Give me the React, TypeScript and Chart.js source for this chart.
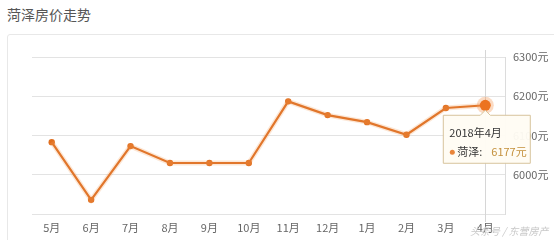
import React, { useEffect, useRef } from "react";
import { Chart, registerables } from "chart.js";

Chart.register(...registerables);

const categories = ["5月", "6月", "7月", "8月", "9月", "10月", "11月", "12月", "1月", "2月", "3月", "4月"];
const prices = [6083, 5936, 6073, 6030, 6030, 6030, 6187, 6152, 6134, 6102, 6170, 6177];
const yTicks = [5900, 6000, 6100, 6200, 6300];
const seriesName = "菏泽";
const activeLabel = "2018年4月";
const activeIndex = 11;
const FONT = "'Noto Sans CJK SC', 'Noto Sans', sans-serif";

const tooltipPlugin = {
  id: "customTip",
  afterDatasetsDraw(chart: any) {
    const ctx = chart.ctx;
    const meta = chart.getDatasetMeta(1);
    const pt = meta.data[activeIndex];
    if (!pt) return;
    const px = pt.x;
    const py = pt.y;
    ctx.save();
    ctx.beginPath();
    ctx.arc(px, py, 8.5, 0, Math.PI * 2);
    ctx.fillStyle = "rgba(243,150,80,0.35)";
    ctx.fill();
    ctx.beginPath();
    ctx.arc(px, py, 5.5, 0, Math.PI * 2);
    ctx.fillStyle = "#ec7320";
    ctx.fill();
    const bx = px - 42, by = py + 10, bw = 87, bh = 48;
    ctx.beginPath();
    ctx.moveTo(bx, by);
    ctx.lineTo(px - 5, by);
    ctx.lineTo(px, by - 5);
    ctx.lineTo(px + 5, by);
    ctx.lineTo(bx + bw, by);
    ctx.lineTo(bx + bw, by + bh);
    ctx.lineTo(bx, by + bh);
    ctx.closePath();
    ctx.fillStyle = "rgba(255,252,244,0.96)";
    ctx.fill();
    ctx.strokeStyle = "#d7c39c";
    ctx.lineWidth = 1;
    ctx.stroke();
    ctx.font = `11px ${FONT}`;
    ctx.textBaseline = "middle";
    ctx.textAlign = "left";
    ctx.fillStyle = "#333";
    ctx.fillText(activeLabel, bx + 6, by + 18);
    ctx.beginPath();
    ctx.arc(bx + 9, by + 37, 2.5, 0, Math.PI * 2);
    ctx.fillStyle = "#e9853a";
    ctx.fill();
    ctx.fillStyle = "#333";
    ctx.fillText(seriesName + ":", bx + 14, by + 37);
    ctx.fillStyle = "#c4913d";
    ctx.fillText(prices[activeIndex] + "元", bx + 48, by + 37);
    ctx.restore();
  },
  beforeDatasetsDraw(chart: any) {
    const ctx = chart.ctx;
    const meta = chart.getDatasetMeta(1);
    const pt = meta.data[activeIndex];
    if (!pt) return;
    ctx.save();
    ctx.strokeStyle = "#d6d6d6";
    ctx.lineWidth = 1;
    ctx.beginPath();
    ctx.moveTo(Math.round(pt.x) + 0.5, 50);
    ctx.lineTo(Math.round(pt.x) + 0.5, 222);
    ctx.stroke();
    ctx.restore();
  },
};

export default function App() {
  const ref = useRef<HTMLCanvasElement>(null);
  useEffect(() => {
    if (!ref.current) return;
    const chart = new Chart(ref.current, {
      type: "line",
      data: {
        labels: categories,
        datasets: [
          {
            label: "glow",
            data: prices,
            borderColor: "rgba(245,160,90,0.25)",
            borderWidth: 5,
            pointRadius: 0,
            tension: 0,
            fill: false,
          },
          {
            label: seriesName,
            data: prices,
            borderColor: "#db681b",
            borderWidth: 2.2,
            pointRadius: 3.2,
            pointBackgroundColor: "#e06e1e",
            pointBorderWidth: 0,
            tension: 0,
            fill: false,
          },
        ],
      },
      options: {
        animation: false,
        responsive: false,
        maintainAspectRatio: false,
        events: [],
        layout: { padding: { left: 32, top: 57, right: 0, bottom: 0 } },
        plugins: { legend: { display: false }, tooltip: { enabled: false } },
        scales: {
          x: {
            offset: true,
            grid: { display: false, drawTicks: false },
            border: { display: false },
            ticks: { color: "#666", font: { size: 11, family: FONT }, padding: 7, maxRotation: 0, autoSkip: false },
            afterFit: (s: any) => { s.height = 26; },
          },
          y: {
            position: "right",
            min: yTicks[0],
            max: yTicks[yTicks.length - 1],
            afterBuildTicks: (s: any) => { s.ticks = yTicks.map((v) => ({ value: v })); },
            grid: { color: "#e3e3e3", drawTicks: false, lineWidth: 1 },
            border: { display: true, color: "#dcdcdc" },
            ticks: {
              color: "#666",
              font: { size: 11, family: FONT },
              padding: 8,
              callback: (v: any) => (v === yTicks[0] ? "" : v + "元"),
            },
            afterFit: (s: any) => { s.width = 49; },
          },
        },
      },
      plugins: [tooltipPlugin],
    });
    return () => chart.destroy();
  }, []);

  return (
    <div style={{ position: "absolute", left: 0, top: 0, width: 554, height: 240, background: "#fff", overflow: "hidden", fontFamily: FONT }}>
      <div style={{ position: "absolute", left: 7, top: 4, fontSize: 14, color: "#555", lineHeight: "20px" }}>菏泽房价走势</div>
      <div style={{ position: "absolute", left: 7, top: 34, width: 600, height: 300, border: "1px solid #e8e8e8", borderRadius: 3 }} />
      <canvas ref={ref} width={554} height={240} style={{ position: "absolute", left: 0, top: 0, width: 554, height: 240 }} />
      <div style={{ position: "absolute", left: 470, top: 223, fontSize: 10, color: "#c8c8c8", fontStyle: "italic", whiteSpace: "nowrap" }}>头条号 / 东营房产</div>
    </div>
  );
}
